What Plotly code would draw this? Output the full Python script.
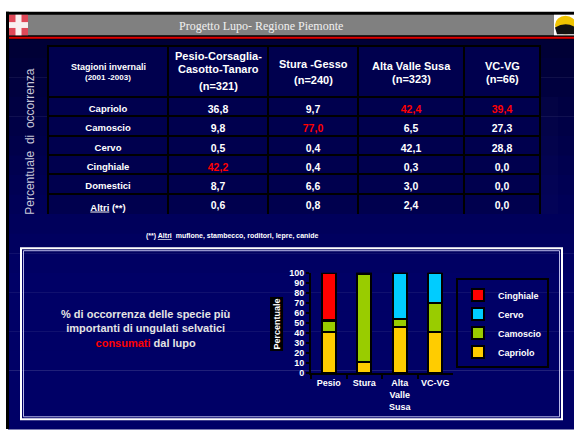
import plotly.graph_objects as go

W, H = 574, 434
FONT = "Liberation Sans, Arial, sans-serif"

# ---------------- data ----------------
row_labels = ["Capriolo", "Camoscio", "Cervo", "Cinghiale", "Domestici", "<u>Altri</u> (**)"]
pesio = [36.8, 9.8, 0.5, 42.2, 8.7, 0.6]
stura = [9.7, 77.0, 0.4, 0.4, 6.6, 0.8]
alta = [42.4, 6.5, 42.1, 0.3, 3.0, 2.4]
vcvg = [39.4, 27.3, 28.8, 0.0, 0.0, 0.0]
red_row = [3, 1, 0, 0]  # highlighted (max) row per area column

bar_cats = ["Pesio", "Stura", "Alta<br>Valle<br>Susa", "VC-VG"]
capriolo = [41.2, 11.1, 46.4, 41.3]
camoscio = [11.0, 88.0, 7.1, 28.6]
cervo = [0.6, 0.5, 46.1, 30.1]
cinghiale = [47.2, 0.4, 0.4, 0.0]


def X(px):
    return px / W


def Y(py):
    return 1 - py / H


def fmt(vals):
    return [f"{v:.1f}".replace(".", ",") for v in vals]


fig = go.Figure()

# ---------------- table ----------------
cols = [pesio, stura, alta, vcvg]
font_colors = [["white"] * 6] + [
    ["#ff0000" if i == red_row[c] else "white" for i in range(6)] for c in range(4)
]
fig.add_trace(go.Table(
    domain=dict(x=[X(48), X(540)], y=[Y(214), Y(42)]),
    columnwidth=[120, 100, 90, 106, 76],
    header=dict(values=["", "", "", "", ""], height=51,
                fill_color="#00004e", line=dict(color="black", width=2)),
    cells=dict(values=[row_labels] + [fmt(c) for c in cols],
               height=19.3, align="center",
               fill_color="#00004e", line=dict(color="black", width=2),
               font=dict(family=FONT, size=[9.5, 10.5, 10.5, 10.5, 10.5],
                         color=font_colors, weight="bold")),
))

# ---------------- bars ----------------
series = [("Capriolo", capriolo, "#ffcc00"), ("Camoscio", camoscio, "#99cc00"),
          ("Cervo", cervo, "#00ccff"), ("Cinghiale", cinghiale, "#ff0000")]
for name, vals, col in series:
    fig.add_trace(go.Bar(x=bar_cats, y=vals, name=name, width=0.4,
                         marker=dict(color=col, line=dict(color="black", width=2))))

# ---------------- shapes ----------------
shapes = []
# gradient background
n = 20
for i in range(n):
    y0 = 34 + (434 - 34) * i / n
    y1 = 34 + (434 - 34) * (i + 1) / n
    t = min(1.0, (i + 0.5) / (n * 0.6))
    b = int(52 + (102 - 52) * t)
    shapes.append(dict(type="rect", xref="paper", yref="paper", layer="below",
                       x0=X(8), x1=X(574), y0=Y(y1 + 0.5), y1=Y(y0),
                       fillcolor=f"rgb(0,0,{b})", line=dict(width=0)))
# black frame bands
shapes.append(dict(type="rect", xref="paper", yref="paper", layer="below",
                   x0=X(6), x1=X(9), y0=Y(434), y1=Y(7),
                   fillcolor="black", line=dict(width=0)))
shapes.append(dict(type="rect", xref="paper", yref="paper", layer="below",
                   x0=X(6), x1=X(574), y0=Y(35), y1=Y(7),
                   fillcolor="black", line=dict(width=0)))
# gray title bar
shapes.append(dict(type="rect", xref="paper", yref="paper", layer="below",
                   x0=X(9), x1=X(574), y0=Y(31), y1=Y(10),
                   fillcolor="#808080", line=dict(width=0)))
# red line
shapes.append(dict(type="rect", xref="paper", yref="paper", layer="below",
                   x0=X(9), x1=X(574), y0=Y(34.5), y1=Y(32.5),
                   fillcolor="#e00000", line=dict(width=0)))
# flag (left icon)
shapes.append(dict(type="rect", xref="paper", yref="paper", layer="below",
                   x0=X(9), x1=X(28), y0=Y(31), y1=Y(10),
                   fillcolor="#e04858", line=dict(width=0)))
shapes.append(dict(type="rect", xref="paper", yref="paper", layer="below",
                   x0=X(9), x1=X(28), y0=Y(23.5), y1=Y(17.5),
                   fillcolor="#f8f0f0", line=dict(width=0)))
shapes.append(dict(type="rect", xref="paper", yref="paper", layer="below",
                   x0=X(15.5), x1=X(21.5), y0=Y(31), y1=Y(10),
                   fillcolor="#f8f0f0", line=dict(width=0)))
# right icon
shapes.append(dict(type="rect", xref="paper", yref="paper", layer="below",
                   x0=X(554), x1=X(574), y0=Y(31), y1=Y(10),
                   fillcolor="white", line=dict(width=0)))
shapes.append(dict(type="circle", xref="paper", yref="paper", layer="below",
                   x0=X(555), x1=X(576), y0=Y(30), y1=Y(11),
                   fillcolor="#f0c400", line=dict(width=0)))
shapes.append(dict(type="path", xref="paper", yref="paper", layer="below",
                   path=f"M {X(555)} {Y(23)} Q {X(565)} {Y(17)} {X(574)} {Y(22)} "
                        f"L {X(574)} {Y(30)} L {X(557)} {Y(30)} Z",
                   fillcolor="#111111", line=dict(width=0)))
# lower box border
shapes.append(dict(type="rect", xref="paper", yref="paper", layer="below",
                   x0=X(21), x1=X(562), y0=Y(424), y1=Y(249),
                   fillcolor="rgba(0,0,0,0)", line=dict(color="white", width=2)))
shapes.append(dict(type="rect", xref="paper", yref="paper", layer="below",
                   x0=X(23.5), x1=X(559.5), y0=Y(421.5), y1=Y(251.5),
                   fillcolor="rgba(0,0,0,0)", line=dict(color="#b8b8e8", width=1)))

# ---------------- annotations ----------------
ann = []


def A(text, x, y, size, color="white", bold=True, family=FONT, **kw):
    ann.append(dict(text=text, x=X(x), y=Y(y), xref="paper", yref="paper",
                    showarrow=False, xanchor=kw.pop("xanchor", "center"),
                    yanchor=kw.pop("yanchor", "middle"),
                    font=dict(family=family, size=size, color=color,
                              weight="bold" if bold else "normal"), **kw))


A("Progetto Lupo- Regione Piemonte", 261, 21, 12, color="#f0f0f0", bold=False,
  family="Liberation Serif, Times New Roman, serif")
A("Percentuale  di  occorrenza", 30, 140, 12, color="#c8c8d8", bold=False, textangle=-90)

# table header labels
A("Stagioni invernali", 108, 63, 9)
A("(2001 -2003)", 108, 74, 8)
for txt, yy in [("Pesio-Corsaglia-", 52), ("Casotto-Tanaro", 66), ("(n=321)", 83)]:
    A(txt, 218, yy, 11)
for txt, yy in [("Stura -Gesso", 60), ("(n=240)", 77)]:
    A(txt, 313, yy, 11)
for txt, yy in [("Alta Valle Susa", 62), ("(n=323)", 76)]:
    A(txt, 411, yy, 11)
for txt, yy in [("VC-VG", 62), ("(n=66)", 76)]:
    A(txt, 502, yy, 11)

A("(**) <u>Altri</u>  muflone, stambecco, roditori, lepre, canide", 232, 236, 7)

A("% di occorrenza delle specie più<br>importanti di ungulati selvatici<br>"
  "<span style='color:#ff0000'>consumati</span> dal lupo", 145, 331, 11, color="#e4e4e4")

A("Percentuale", 277, 327, 9, textangle=-90, bgcolor="black")

fig.update_layout(
    width=W, height=H, margin=dict(l=0, r=0, t=0, b=0),
    paper_bgcolor="white", plot_bgcolor="rgba(0,0,0,0)",
    barmode="stack", bargap=0.6,
    shapes=shapes, annotations=ann,
    showlegend=True,
    legend=dict(x=X(456), y=Y(326), xanchor="left", yanchor="middle",
                bgcolor="rgba(0,0,0,0)", bordercolor="black", borderwidth=2,
                traceorder="reversed", itemwidth=30, tracegroupgap=0,
                font=dict(family=FONT, size=9, color="white", weight="bold")),
    xaxis=dict(domain=[X(311), X(453)], type="category", tickson="boundaries",
               ticks="outside", ticklen=4, tickcolor="black", tickwidth=2,
               showline=True, linecolor="black", linewidth=2, showgrid=False,
               tickfont=dict(family=FONT, size=9, color="white", weight="bold")),
    yaxis=dict(domain=[Y(377), Y(274)], range=[0, 100], dtick=10,
               ticks="outside", ticklen=3, tickcolor="black", tickwidth=2,
               showline=True, linecolor="black", linewidth=2, showgrid=False,
               zeroline=False,
               tickfont=dict(family=FONT, size=9, color="white", weight="bold")),
)

fig.write_html("out.html",
               config={"displayModeBar": False},
               post_script="document.body.style.margin='0';"
                           "document.body.style.overflow='hidden';")
